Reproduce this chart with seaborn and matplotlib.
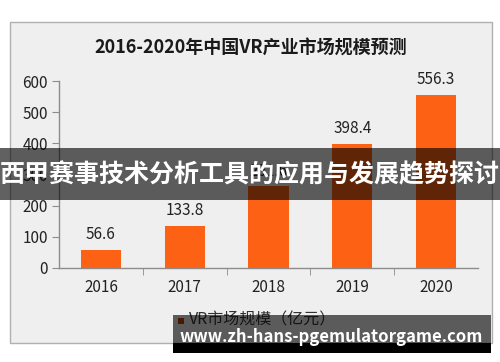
import matplotlib
matplotlib.use("Agg")
import matplotlib.pyplot as plt
import seaborn as sns
import pandas as pd
from matplotlib.patches import Rectangle

years = ["2016", "2017", "2018", "2019", "2020"]
values = [56.6, 133.8, 261.6, 398.4, 556.3]
value_labels = ["56.6", "133.8", "261.6", "398.4", "556.3"]
y_ticks = [0, 100, 200, 300, 400, 500, 600]
title = "2016-2020年中国VR产业市场规模预测"
legend_label = "VR市场规模（亿元）"
banner_text = "西甲赛事技术分析工具的应用与发展趋势探讨"
url_text = "www.zh-hans-pgemulatorgame.com"

sns.set_style("white")
plt.rcParams['font.family'] = ['Noto Sans CJK SC', 'DejaVu Sans']

W, H = 500, 362
fig = plt.figure(figsize=(5, 3.62), dpi=100)
fig.patch.set_facecolor("white")

def fx(x): return x / W
def fy(y): return 1 - y / H

# panel
fig.patches.append(Rectangle((fx(10), fy(343)), fx(492) - fx(10), fy(22) - fy(343),
                             transform=fig.transFigure, facecolor="#efefef",
                             edgecolor="#b0b0b0", linewidth=1.0, zorder=-5))

ax = fig.add_axes([fx(59), fy(268), fx(478) - fx(59), fy(81) - fy(268)])
ax.set_zorder(1)
ax.set_facecolor("none")
df = pd.DataFrame({"year": years, "value": values})
sns.barplot(data=df, x="year", y="value", color="#fc6114", width=0.48,
            saturation=1, ax=ax, zorder=2, linewidth=0)
ax.set_ylim(0, 600)
ax.set_xlim(-0.5, 4.5)
ax.set_yticks(y_ticks)
ax.set_xlabel("")
ax.set_ylabel("")
for s in ["top", "right"]:
    ax.spines[s].set_visible(False)
for s in ["left", "bottom"]:
    ax.spines[s].set_color("#8c8c8c")
    ax.spines[s].set_linewidth(1.0)
ax.tick_params(axis="y", length=5, color="#8c8c8c", labelsize=11,
               labelcolor="#222222", direction="out", left=True, pad=3)
ax.tick_params(axis="x", which="major", length=0, labelsize=11,
               labelcolor="#222222", pad=8)
ax.set_xticks([0.5, 1.5, 2.5, 3.5], minor=True)
ax.tick_params(axis="x", which="minor", length=5, color="#8c8c8c", direction="out", bottom=True)
for i, (v, lab) in enumerate(zip(values, value_labels)):
    ax.annotate(lab, (i, v), xytext=(0, 5), textcoords="offset points",
                ha="center", va="bottom", fontsize=11, color="#222222",
                annotation_clip=False)

fig.text(fx(251), fy(48), title, ha="center", va="center", fontsize=13,
         fontweight="bold", color="#1a1a1a", zorder=3)

# legend
fig.patches.append(Rectangle((fx(178), fy(324)), 6 / W, 6 / H,
                             transform=fig.transFigure, facecolor="#c0400a",
                             edgecolor="none", zorder=3))
fig.text(fx(189), fy(320), legend_label, ha="left", va="center", fontsize=11.5,
         color="#333333", zorder=3)

# middle banner
fig.patches.append(Rectangle((0, fy(200)), 1, fy(148) - fy(200), transform=fig.transFigure,
                             facecolor="black", alpha=0.62, edgecolor="none", zorder=10))
fig.text(0.5, fy(175), banner_text, ha="center", va="center", fontsize=18,
         fontweight="bold", color="white", zorder=11)

# bottom banner
fig.patches.append(Rectangle((fx(173), fy(343)), fx(491) - fx(173), fy(315) - fy(343),
                             transform=fig.transFigure, facecolor="black", alpha=0.62,
                             edgecolor="none", zorder=10))
fig.patches.append(Rectangle((fx(173), fy(353)), fx(491) - fx(173), fy(343) - fy(353),
                             transform=fig.transFigure, facecolor="black",
                             edgecolor="none", zorder=10))
fig.text(fx(331), fy(337), url_text, ha="center", va="center", fontsize=12,
         fontweight="bold", color="white", zorder=11)

fig.savefig("out.png", dpi=100)
